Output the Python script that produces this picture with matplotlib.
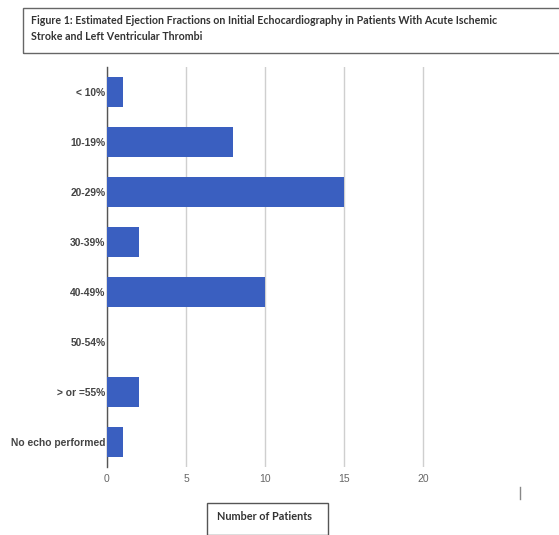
import matplotlib
matplotlib.use("Agg")
import matplotlib.pyplot as plt
from matplotlib.patches import Rectangle
from matplotlib.lines import Line2D

categories = ["< 10%", "10-19%", "20-29%", "30-39%", "40-49%", "50-54%",
              "> or =55%", "No echo performed"]
patients = [1, 8, 15, 2, 10, 0, 2, 1]
x_ticks = [0, 5, 10, 15, 20]

W, H = 559, 535
fig = plt.figure(figsize=(W / 100, H / 100), dpi=100)
fig.patch.set_facecolor("white")

def fx(px):
    return px / W

def fy(py):
    return 1 - py / H

x_max = 22
ax = fig.add_axes([fx(107), fy(467), fx(107 + 15.8 * x_max) - fx(107), fy(67) - fy(467)])
ypos = list(range(len(categories)))
ax.barh(ypos, patients, height=0.6, color="#3a5fc0", zorder=3)
ax.set_ylim(len(categories) - 0.5, -0.5)
ax.set_xlim(0, x_max)
ax.set_yticks(ypos)
ax.set_yticklabels(categories, fontsize=7.4, fontweight="bold", color="#444444",
                   family="Liberation Sans")
ax.set_xticks(x_ticks)
ax.set_xticklabels([str(t) for t in x_ticks], fontsize=7.5, color="#666666",
                   family="Liberation Sans")
ax.tick_params(axis="y", length=0, pad=1)
ax.tick_params(axis="x", length=0, pad=5)
for s in ["top", "right", "bottom"]:
    ax.spines[s].set_visible(False)
ax.spines["left"].set_color("#555555")
ax.spines["left"].set_linewidth(1.0)
ax.xaxis.grid(True, color="#cfcfcf", linewidth=1.0, zorder=0)
ax.set_axisbelow(True)

# title box
fig.patches.append(Rectangle((fx(23), fy(53)), fx(600) - fx(23), fy(8) - fy(53),
                             transform=fig.transFigure, fill=False,
                             edgecolor="#666666", linewidth=1.0))
fig.text(fx(31), fy(21),
         "Figure 1: Estimated Ejection Fractions on Initial Echocardiography in Patients With Acute Ischemic",
         fontsize=7.7, fontweight="bold", color="#333333", family="Lato", va="center")
fig.text(fx(31), fy(37), "Stroke and Left Ventricular Thrombi",
         fontsize=7.7, fontweight="bold", color="#333333", family="Lato", va="center")

# axis label box
fig.patches.append(Rectangle((fx(207), fy(535)), fx(328) - fx(207), fy(503) - fy(535),
                             transform=fig.transFigure, fill=False,
                             edgecolor="#555555", linewidth=1.0))
fig.text(fx(217), fy(516), "Number of Patients", fontsize=7.8, fontweight="bold",
         color="#333333", family="Lato", va="center")

# small stray cursor mark at the lower right
fig.add_artist(Line2D([fx(520), fx(520)], [fy(487), fy(499)],
                      transform=fig.transFigure, color="#888888", linewidth=1.0))

fig.savefig("out.png", dpi=100)
